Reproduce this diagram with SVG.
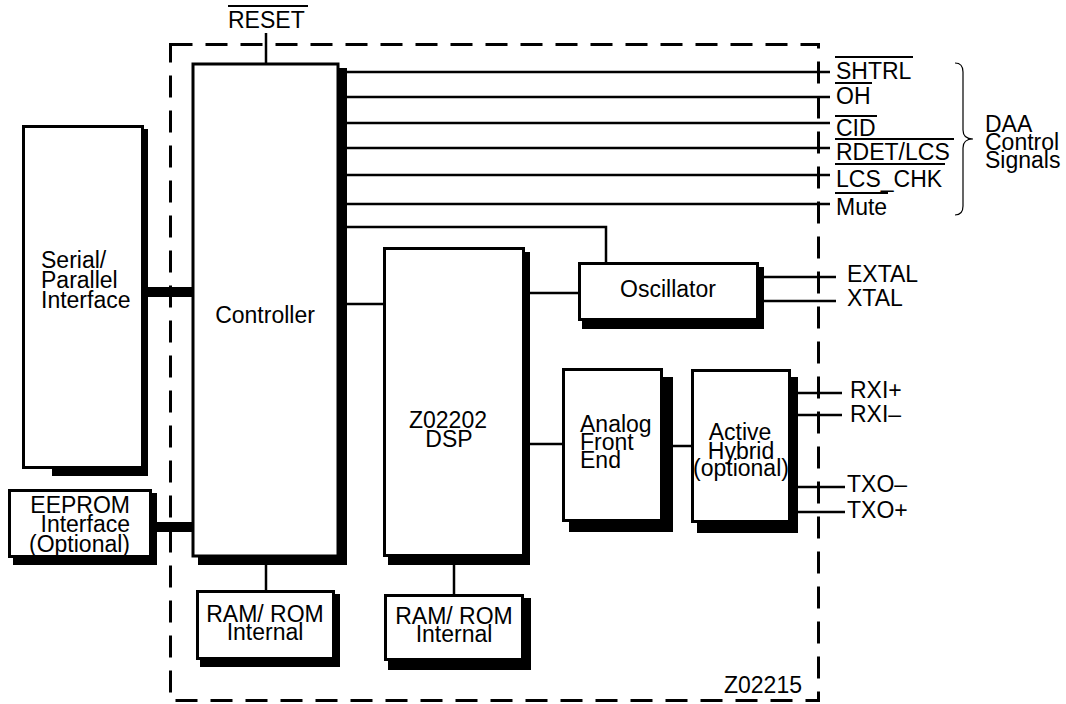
<svg xmlns="http://www.w3.org/2000/svg" width="1066" height="704" viewBox="0 0 1066 704">
<style>
text{font-family:"Liberation Sans",Arial,sans-serif;font-size:23px;fill:#000}
.box{fill:#fff;stroke:#000;stroke-width:3}
.sh{fill:#000;stroke:none}
.ln{stroke:#000;stroke-width:2.5;fill:none}
.thick{stroke:#000;stroke-width:10;fill:none}
.ov{stroke:#000;stroke-width:2;fill:none}
.c{text-anchor:middle}
.e{text-anchor:end}
</style>
<rect width="1066" height="704" fill="#fff"/>
<rect id="boundary" x="170.5" y="44.5" width="648" height="656" fill="none" stroke="#000" stroke-width="3" stroke-dasharray="22 13"/>
<g id="connectors">
<line class="ln" x1="266" y1="33" x2="266" y2="63"/>
<line class="ln" x1="347" y1="72" x2="830" y2="72"/>
<line class="ln" x1="347" y1="97" x2="830" y2="97"/>
<line class="ln" x1="347" y1="123" x2="830" y2="123"/>
<line class="ln" x1="347" y1="148" x2="830" y2="148"/>
<line class="ln" x1="347" y1="175" x2="830" y2="175"/>
<line class="ln" x1="347" y1="204" x2="830" y2="204"/>
<polyline class="ln" points="347,227 606,227 606,262"/>
<line class="ln" x1="347" y1="304" x2="383" y2="304"/>
<line class="ln" x1="530" y1="293" x2="578" y2="293"/>
<line class="ln" x1="764" y1="277" x2="836" y2="277"/>
<line class="ln" x1="764" y1="301" x2="836" y2="301"/>
<line class="ln" x1="530" y1="444" x2="562" y2="444"/>
<line class="ln" x1="673" y1="446" x2="691" y2="446"/>
<line class="ln" x1="798" y1="393" x2="842" y2="393"/>
<line class="ln" x1="798" y1="415" x2="842" y2="415"/>
<line class="ln" x1="798" y1="487" x2="845" y2="487"/>
<line class="ln" x1="798" y1="512" x2="845" y2="512"/>
<line class="ln" x1="266" y1="557" x2="266" y2="590"/>
<line class="ln" x1="454" y1="557" x2="454" y2="594"/>
<line class="thick" x1="148" y1="292" x2="192" y2="292"/>
<line class="thick" x1="157" y1="527" x2="192" y2="527"/>
</g>
<g id="serial">
<path class="sh" d="M144,129 H148 V476 H52 V469 H144 Z"/>
<rect class="box" x="23.5" y="126.5" width="119" height="341"/>
<text x="41" y="268">Serial/</text>
<text x="41" y="288">Parallel</text>
<text x="41" y="308">Interface</text>
</g>
<g id="eeprom">
<rect class="sh" x="13" y="493" width="144" height="72"/>
<rect class="box" x="9.5" y="490.5" width="141" height="66"/>
<text class="e" x="130" y="513">EEPROM</text>
<text class="e" x="130" y="532">Interface</text>
<text class="e" x="130" y="552">(Optional)</text>
</g>
<g id="controller">
<rect class="sh" x="198" y="68" width="149" height="497"/>
<rect class="box" x="193" y="64" width="145" height="492"/>
<text class="c" x="265" y="323">Controller</text>
</g>
<g id="ram1">
<rect class="sh" x="200" y="594" width="140" height="73"/>
<rect class="box" x="197.5" y="591.5" width="136" height="67"/>
<text class="c" x="265" y="622">RAM/ ROM</text>
<text class="c" x="265" y="640">Internal</text>
</g>
<g id="dsp">
<rect class="sh" x="388" y="252" width="142" height="313"/>
<rect class="box" x="384.5" y="248.5" width="139" height="307"/>
<text class="c" x="448" y="428">Z02202</text>
<text class="c" x="449" y="447">DSP</text>
</g>
<g id="ram2">
<rect class="sh" x="388" y="598" width="143" height="72"/>
<rect class="box" x="385.5" y="595.5" width="137" height="64"/>
<text class="c" x="454" y="624">RAM/ ROM</text>
<text class="c" x="454" y="642">Internal</text>
</g>
<g id="oscillator">
<rect class="sh" x="582" y="267" width="182" height="62"/>
<rect class="box" x="579.5" y="263.5" width="178" height="56"/>
<text class="c" x="668" y="297">Oscillator</text>
</g>
<g id="afe">
<rect class="sh" x="569" y="377" width="104" height="155"/>
<rect class="box" x="563.5" y="369.5" width="98" height="151"/>
<text x="580" y="432">Analog</text>
<text x="580" y="450">Front</text>
<text x="580" y="468">End</text>
</g>
<g id="hybrid">
<rect class="sh" x="697" y="377" width="101" height="156"/>
<rect class="box" x="692.5" y="370.5" width="97" height="151"/>
<text class="c" x="740" y="440">Active</text>
<text class="c" x="741" y="459">Hybrid</text>
<text class="c" x="741" y="476">(optional)</text>
</g>
<g id="labels">
<text x="228" y="28">RESET</text>
<line class="ov" x1="228" y1="6" x2="308" y2="6"/>
<text x="836" y="79">SHTRL</text>
<line class="ov" x1="835" y1="57" x2="913" y2="57"/>
<text x="836" y="104">OH</text>
<line class="ov" x1="835" y1="83" x2="872" y2="83"/>
<text x="836" y="136">CID</text>
<line class="ov" x1="835" y1="116" x2="877" y2="116"/>
<text x="836" y="160">RDET/LCS</text>
<line class="ov" x1="835" y1="139" x2="954" y2="139"/>
<text x="836" y="187">LCS_CHK</text>
<line class="ov" x1="835" y1="164" x2="945" y2="164"/>
<text x="836" y="215">Mute</text>
<line class="ov" x1="835" y1="193" x2="888" y2="193"/>
<text x="847" y="282">EXTAL</text>
<text x="847" y="306">XTAL</text>
<text x="850" y="398">RXI+</text>
<text x="850" y="422">RXI–</text>
<text x="847" y="492">TXO–</text>
<text x="847" y="518">TXO+</text>
<path d="M955,63 Q963,63 963,72 V130 Q963,139 973,139 Q963,139 963,148 V206 Q963,215 955,215" fill="none" stroke="#000" stroke-width="1.2"/>
<text x="985" y="132">DAA</text>
<text x="985" y="150">Control</text>
<text x="985" y="168">Signals</text>
<text class="e" x="802" y="693">Z02215</text>
</g>
</svg>
